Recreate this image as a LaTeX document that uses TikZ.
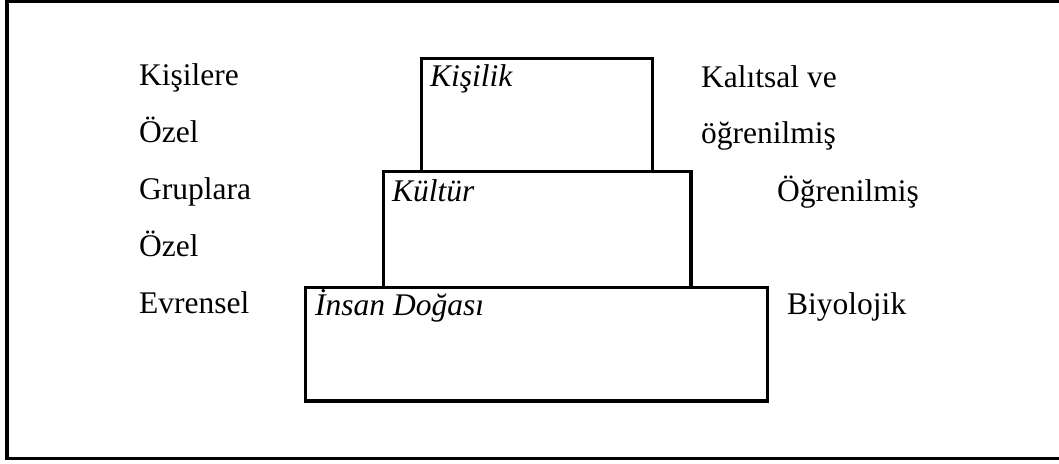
\documentclass[tikz,border=0pt]{standalone}
\usepackage{fontspec}
\setmainfont{Liberation Serif}
\begin{document}
\begin{tikzpicture}[x=1pt,y=-1pt,
  frameline/.style={line width=3.5pt},
  tier/.style={line width=3.5pt},
  lbl/.style={anchor=base west,inner sep=0pt,font=\fontsize{31.5}{37}\selectfont},
  tiername/.style={lbl,font=\fontsize{31.5}{37}\selectfont\itshape}]
\useasboundingbox (0,0) rectangle (1059,463);
\clip (0,0) rectangle (1059,463);

% open outer frame
\draw[frameline] (1065,1.5) -- (7,1.5) -- (7,458.5) -- (1065,458.5);

% the three stacked tiers
\draw[tier] (421.5,171.5) -- (421.5,58.5) -- (652.5,58.5) -- (652.5,171.5);
\draw[tier] (383.5,287.5) -- (383.5,171.5) -- (691,171.5) -- (691,287.5);
\draw[tier] (305.5,287.5) rectangle (767.5,401);

% tier names
\node[tiername] (kisilik) at (430,86) {Kişilik};
\node[tiername] (kultur)  at (392,201) {Kültür};
\node[tiername] (doga)    at (315,315) {İnsan Doğası};

% left column
\node[lbl] (l1) at (139,85)  {Kişilere};
\node[lbl] (l2) at (139,142) {Özel};
\node[lbl] (l3) at (139,199) {Gruplara};
\node[lbl] (l4) at (139,256) {Özel};
\node[lbl] (l5) at (139,313) {Evrensel};

% right column
\node[lbl] (r1) at (701,87)  {Kalıtsal ve};
\node[lbl] (r2) at (701,143) {öğrenilmiş};
\node[lbl] (r3) at (777,201) {Öğrenilmiş};
\node[lbl] (r4) at (787,314) {Biyolojik};
\end{tikzpicture}
\end{document}
